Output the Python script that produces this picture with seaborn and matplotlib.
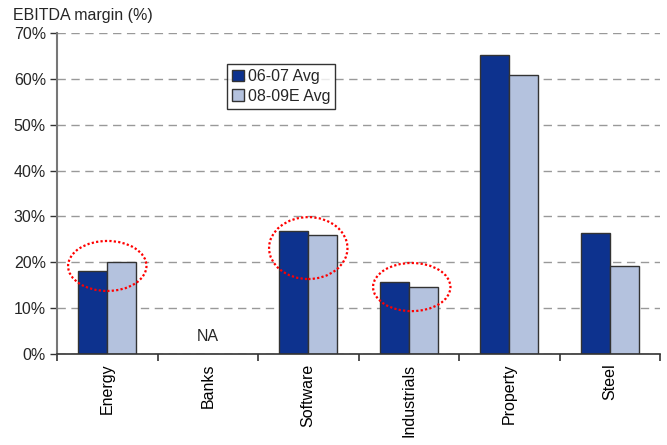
import matplotlib
matplotlib.use("Agg")
import matplotlib.pyplot as plt
from matplotlib.patches import Ellipse
from matplotlib.ticker import FixedLocator, PercentFormatter
import numpy as np
import pandas as pd
import seaborn as sns

sectors = ["Energy", "Banks", "Software", "Industrials", "Property", "Steel"]
avg_0607 = [18.1, np.nan, 26.8, 15.7, 65.1, 26.4]
avg_0809e = [20.0, np.nan, 25.9, 14.6, 60.8, 19.2]
series_names = ["06-07 Avg", "08-09E Avg"]
y_ticks = [0, 10, 20, 30, 40, 50, 60, 70]

df = pd.DataFrame({
    "sector": sectors * 2,
    "margin": avg_0607 + avg_0809e,
    "period": [series_names[0]] * len(sectors) + [series_names[1]] * len(sectors),
})

sns.set_theme(style="white")
plt.rcParams["font.family"] = ["Liberation Sans", "DejaVu Sans"]
FS = 11.5

fig = plt.figure(figsize=(6.67, 4.45), dpi=100)
ax = fig.add_axes([0.0855, 0.2045, 0.904, 0.7213])

sns.barplot(data=df, x="sector", y="margin", hue="period", order=sectors,
            hue_order=series_names, palette=["#0d328e", "#b4c2de"],
            width=0.58, edgecolor="#333333", linewidth=1.0, saturation=1,
            ax=ax)

ax.set_xlim(-0.5, len(sectors) - 0.5)
ax.set_ylim(0, 70)
ax.yaxis.set_major_locator(FixedLocator(y_ticks))
ax.yaxis.set_major_formatter(PercentFormatter(decimals=0))
ax.grid(axis="y", color="#999999", linestyle=(0, (6, 4)), linewidth=1.0)
ax.set_axisbelow(True)
ax.set_xlabel("")
ax.set_ylabel("")

# category boundary ticks on the x axis
ax.xaxis.set_minor_locator(FixedLocator(np.arange(-0.5, len(sectors), 1.0)))
ax.tick_params(axis="x", which="major", length=0, labelsize=FS, pad=7,
               labelrotation=90, colors="black")
ax.tick_params(axis="x", which="minor", length=5, width=1.2, direction="out",
               color="#333333", bottom=True)
ax.tick_params(axis="y", which="major", length=5, width=1.0, direction="out",
               color="#333333", left=True, labelsize=FS, pad=3)

for side in ["top", "right"]:
    ax.spines[side].set_visible(False)
ax.spines["left"].set_color("#777777")
ax.spines["left"].set_linewidth(1.5)
ax.spines["bottom"].set_color("#333333")
ax.spines["bottom"].set_linewidth(1.2)

ax.text(1, 3.9, "NA", ha="center", va="center", fontsize=FS)

# highlighted sectors
for cx, cy, w, h in [(0.0, 19.2, 0.78, 10.9), (2.0, 23.1, 0.78, 13.5),
                     (3.03, 14.6, 0.77, 10.5)]:
    ax.add_patch(Ellipse((cx, cy), w, h, fill=False, edgecolor="red",
                         linestyle=(0, (1, 1)), linewidth=1.6, zorder=5,
                         clip_on=False))

leg = ax.legend(loc="upper left", bbox_to_anchor=(0.282, 0.903), frameon=True,
                fancybox=False, edgecolor="black", fontsize=FS,
                handlelength=0.75, handleheight=0.75, handletextpad=0.25,
                borderpad=0.3, labelspacing=0.3, borderaxespad=0)
leg.get_frame().set_linewidth(1.0)

fig.text(0.019, 0.965, "EBITDA margin (%)", fontsize=FS, ha="left", va="center")

fig.savefig("out.png", dpi=100)
